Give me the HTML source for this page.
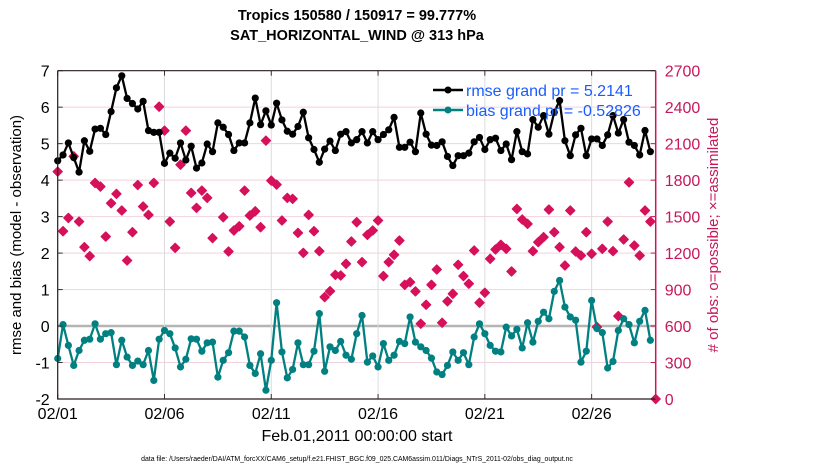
<!DOCTYPE html>
<html><head><meta charset="utf-8"><style>
body{margin:0;background:#fff;}
svg{display:block;font-family:"Liberation Sans",Arial,sans-serif;}
</style></head><body>
<svg id="chart" width="830" height="470">
<g id="grid"></g>
<g id="marks"></g>
<g id="axes"></g>
<text x="357" y="20" text-anchor="middle" font-size="14.5" font-weight="bold">Tropics 150580 / 150917 = 99.777%</text>
<text x="357" y="40" text-anchor="middle" font-size="14.5" font-weight="bold">SAT_HORIZONTAL_WIND @ 313 hPa</text>
<text transform="translate(21,235) rotate(-90)" text-anchor="middle" font-size="15">rmse and bias (model - observation)</text>
<text transform="translate(718,235) rotate(-90)" text-anchor="middle" font-size="15" fill="#c8175a"># of obs: o=possible; ×=assimilated</text>
<text x="357" y="441" text-anchor="middle" font-size="16">Feb.01,2011 00:00:00 start</text>
<text x="357" y="461" text-anchor="middle" font-size="6.9">data file: /Users/raeder/DAI/ATM_forcXX/CAM6_setup/f.e21.FHIST_BGC.f09_025.CAM6assim.011/Diags_NTrS_2011-02/obs_diag_output.nc</text>
<g>
<line x1="433" y1="90" x2="463" y2="90" stroke="#000" stroke-width="2.5"/><circle cx="448" cy="90" r="3.5" fill="#000"/>
<text x="466" y="96" font-size="16" fill="#1a5cff">rmse grand pr = 5.2141</text>
<line x1="433" y1="110" x2="463" y2="110" stroke="#008080" stroke-width="2.5"/><circle cx="448" cy="110" r="3.5" fill="#008080"/>
<text x="466" y="116" font-size="16" fill="#1a5cff">bias grand pr = -0.52826</text>
</g>
</svg>
<script>
const rmse=[4.53,4.69,5.02,4.62,4.22,5.08,4.79,5.40,5.42,5.25,5.88,6.53,6.86,6.24,6.10,5.95,6.16,5.36,5.31,5.31,4.46,4.74,4.60,5.02,4.55,4.93,4.33,4.47,4.99,
4.78,5.57,5.45,5.25,4.81,5.02,5.02,5.57,6.25,5.52,5.90,5.51,6.11,5.65,5.34,5.26,5.47,5.86,5.16,4.84,4.49,4.85,5.07,4.81,5.26,5.33,5.02,5.11,
5.33,5.02,5.33,5.11,5.25,5.38,5.72,4.90,4.90,5.04,4.78,5.84,5.26,4.96,4.95,5.05,4.65,4.40,4.67,4.67,4.74,5.05,5.17,4.84,5.11,5.15,4.81,4.99,
4.56,5.33,4.78,4.72,5.66,5.45,5.77,5.26,5.86,6.18,5.08,4.67,5.24,5.42,4.67,5.13,5.13,4.95,5.24,5.77,5.29,5.66,5.04,4.95,4.69,5.36,4.78];
const bias=[-0.89,0.04,-0.53,-1.08,-0.67,-0.39,-0.36,0.06,-0.36,-0.21,-0.18,-1.06,-0.39,-0.85,-1.08,-0.96,-1.06,-0.67,-1.49,-0.36,-0.12,-0.21,-0.60,-1.12,-0.91,-0.35,-0.36,-0.69,-0.46,
-0.44,-1.40,-0.94,-0.73,-0.14,-0.14,-0.30,-1.08,-1.30,-0.76,-1.76,-0.94,0.64,-0.71,-1.42,-1.19,-0.46,-1.06,-1.06,-0.69,0.34,-1.24,-0.57,-0.67,-0.42,-0.80,-0.91,-0.21,
0.29,-0.99,-0.82,-1.12,-0.48,-0.94,-0.80,-0.42,-0.48,0.25,-0.44,-0.57,-0.67,-0.88,-1.26,-1.33,-1.08,-0.71,-0.94,-0.73,-1.06,-0.30,0.06,-0.21,-0.53,-0.69,-0.71,-0.03,
-0.27,-0.09,-0.60,0.09,-0.44,0.13,0.38,0.20,0.95,1.25,0.52,0.25,0.16,-0.99,-0.69,0.70,-0.07,-0.18,-1.15,-0.97,-0.12,0.20,0.04,-0.46,0.13,0.43,-0.39];
const nobs=[1870,1380,1489,1996,1459,1249,1175,1777,1747,1336,1610,1687,1550,1139,1372,1760,1583,1514,1777,2404,2207,1459,1243,1927,2207,1695,1572,1714,1654,
1323,null,1495,1213,1386,1421,1714,1509,1544,1413,2125,1796,1763,1468,1654,1646,1366,1202,1514,1380,1216,838,887,1021,1016,1112,1295,1454,
1126,1350,1386,1468,1011,1126,1186,1303,939,961,885,619,775,939,1065,627,803,865,1104,1011,948,1221,792,874,1153,1230,1268,1235,
1049,1563,1476,1440,1216,1290,1331,1558,1372,1249,1098,1550,1213,1180,1372,1194,592,1235,1459,1216,682,1312,1782,1262,1180,1550,1459,0];
const leftTicks=[-2,-1,0,1,2,3,4,5,6,7];
const rightTicks=[0,300,600,900,1200,1500,1800,2100,2400,2700];
const dayTicks=[0,5,10,15,20,25];
const dayLabels=["02/01","02/06","02/11","02/16","02/21","02/26"];

const NS="http://www.w3.org/2000/svg";
const X0=57.7,X1=655.7,Y0=399,Y1=70.7;
const xDay=d=>X0+(X1-X0)*d/28;
const xIdx=i=>xDay(i/4);
const yL=v=>Y0-(Y0-Y1)*(v+2)/9;
const yR=v=>Y0-(Y0-Y1)*v/2700;
function mk(tag,attrs,parent){const e=document.createElementNS(NS,tag);for(const k in attrs)e.setAttribute(k,attrs[k]);parent.appendChild(e);return e;}
const grid=document.getElementById('grid'),marks=document.getElementById('marks'),axes=document.getElementById('axes');

leftTicks.forEach(v=>{
  if(v>-2&&v<7){const l=mk('line',{x1:X0,x2:X1,y1:yL(v),y2:yL(v),stroke:v===0?'#b4b4b4':'#f2d2de','stroke-width':v===0?2.5:1},grid);
  
  }
  const t=mk('text',{x:X0-8,y:yL(v)+6,'text-anchor':'end','font-size':16},axes);t.textContent=v;
  
  
  mk('line',{x1:X0,x2:X0+5,y1:yL(v),y2:yL(v),stroke:'#333'},axes);
});
rightTicks.forEach(v=>{
  const t=mk('text',{x:X1+9,y:yR(v)+6,'font-size':16,fill:'#c8175a'},axes);t.textContent=v;
  
  
  mk('line',{x1:X1-5,x2:X1,y1:yR(v),y2:yR(v),stroke:'#c8175a'},axes);
});
dayTicks.forEach((d,k)=>{
  if(d>0){const l=mk('line',{x1:xDay(d),x2:xDay(d),y1:Y1,y2:Y0,stroke:'#dcdcdc','stroke-width':1},grid);
  
  }
  mk('line',{x1:xDay(d),x2:xDay(d),y1:Y0,y2:Y0-5,stroke:'#333'},axes);
  mk('line',{x1:xDay(d),x2:xDay(d),y1:Y1,y2:Y1+5,stroke:'#333'},axes);
  const t=mk('text',{x:xDay(d),y:419,'text-anchor':'middle','font-size':16},axes);t.textContent=dayLabels[k];
  
  
});
mk('path',{d:`M${X0},${Y1}H${X1}M${X0},${Y1}V${Y0}H${X1}`,stroke:'#2a1a1a','stroke-width':1.2,fill:'none'},axes);
mk('line',{x1:X1,x2:X1,y1:Y1,y2:Y0,stroke:'#c8175a','stroke-width':1.5},axes);

nobs.forEach((v,i)=>{
  if(v===null)return;
  const x=xIdx(i),y=yR(v),s=4.6;
  const p=mk('path',{d:`M${x},${y-s}L${x+s},${y}L${x},${y+s}L${x-s},${y}Z`,fill:'#d6105a',stroke:'#d6105a','stroke-width':1.2,'stroke-linejoin':'round'},marks);
  
  
});
function series(arr,color,name){
  const pl=mk('polyline',{points:arr.map((v,i)=>xIdx(i)+','+yL(v)).join(' '),fill:'none',stroke:color,'stroke-width':2.3,'stroke-linejoin':'round'},marks);
  
  
  arr.forEach((v,i)=>{
    const c=mk('circle',{cx:xIdx(i),cy:yL(v),r:3.6,fill:color},marks);
    
    
  });
}
series(rmse,'#000','rmse');
series(bias,'#008080','bias');
</script>
</body></html>
